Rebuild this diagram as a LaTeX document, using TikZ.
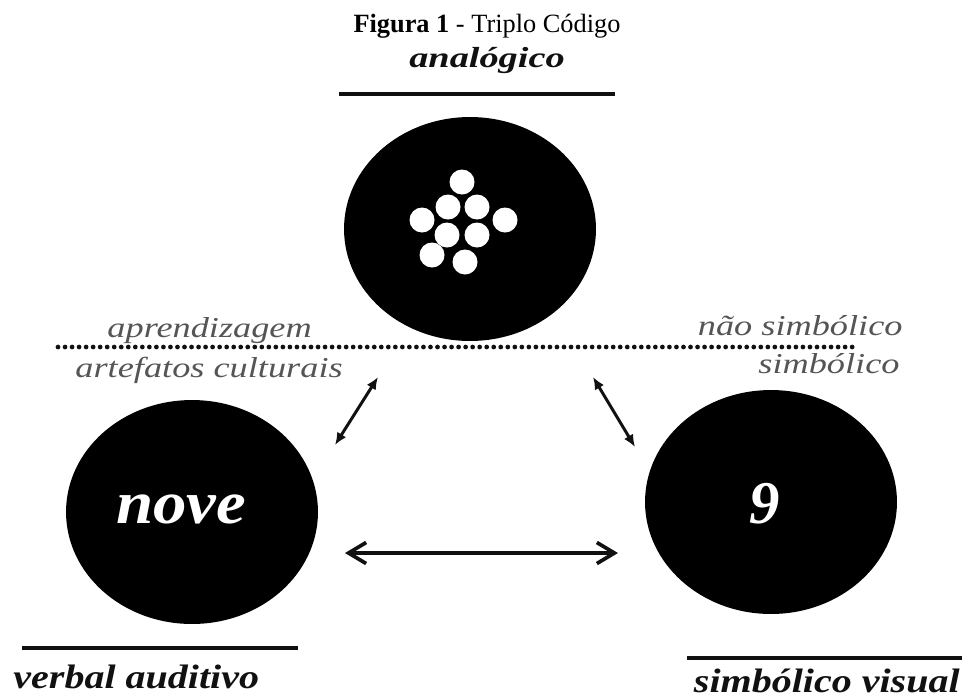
\documentclass[tikz,border=0pt]{standalone}
\usepackage{fontspec}
\setmainfont{Liberation Serif}
\usetikzlibrary{positioning, arrows.meta, shapes.geometric}
\definecolor{Ink}{HTML}{111111}
\definecolor{Note}{HTML}{555555}
\tikzset{
    codeblob/.style={ellipse, fill=black, minimum width=5.04cm, minimum height=4.48cm, inner sep=0pt},
    whitedot/.style={circle, fill=white, minimum size=0.5cm, inner sep=0pt},
    codename/.style={font=\bfseries\itshape\fontsize{19.3}{19.3}\selectfont, text=Ink, xscale=1.18, inner sep=0pt},
    inside/.style={font=\bfseries\itshape\fontsize{34.6}{34.6}\selectfont, text=white, inner sep=0pt},
    zonenote/.style={font=\itshape\fontsize{16.4}{16.4}\selectfont, text=Note, xscale=1.26, inner sep=0pt},
    underline/.style={line width=2.3pt, color=Ink},
    linkarrow/.style={{Latex[length=7pt, width=6pt]}-{Latex[length=7pt, width=6pt]}, line width=1.7pt, color=Ink},
    wideLink/.style={{Straight Barb[length=10pt, width=12pt]}-{Straight Barb[length=10pt, width=12pt]}, line width=2.1pt, color=Ink},
}
\begin{document}
\begin{tikzpicture}[x=0.02cm, y=-0.02cm]
    \useasboundingbox (0,0) rectangle (962,697);

    % Titulo
    \node[font=\fontsize{15}{15}\selectfont, anchor=base, inner sep=0pt] (title) at (487,32)
        {\textbf{Figura 1} - Triplo Código};

    % Os tres codigos
    \node[codeblob] (analog) at (470,229) {};
    \node[codeblob] (verbal) at (192,512) {};
    \node[codeblob] (visual) at (771,502) {};

    % Quantidade (pontos brancos)
    \foreach \dx/\dy [count=\i] in {-8/-47, -22/-22, 7/-22, -48/-9, 35/-9, -23/6, 7/6, -38/26, -5/33}
        \node[whitedot] (dot\i) at ([shift={(\dx,\dy)}]analog) {};

    \node[inside, anchor=base, xscale=1.1] (nove) at (181,523) {nove};
    \node[inside, anchor=base] (nine) at (765,523) {9};

    % Nomes e linhas
    \node[codename, anchor=base, xscale=1.12, font=\bfseries\itshape\fontsize{16.5}{16.5}\selectfont] (analogname) at (487,67) {analógico};
    \coordinate (analogL) at (339,94);
    \coordinate (analogR) at (615,94);
    \draw[underline] (analogL) -- (analogR);

    \node[codename, anchor=base west] (verbalname) at (13,688) {verbal auditivo};
    \coordinate (verbalL) at (22,648);
    \coordinate (verbalR) at (298,648);
    \draw[underline] (verbalL) -- (verbalR);

    \node[codename, anchor=base east] (visualname) at (960,692) {simbólico visual};
    \coordinate (visualL) at (687,658);
    \coordinate (visualR) at (962,658);
    \draw[underline] (visualL) -- (visualR);

    % Fronteira pontilhada
    \coordinate (borderL) at (58,347);
    \coordinate (borderR) at (858,347);
    \draw[line width=2.7pt, Ink, line cap=round, dash pattern=on 0pt off 4pt] (borderL) -- (borderR);
    \node[zonenote, anchor=base west] (learn) at (107,337) {aprendizagem};
    \node[zonenote, anchor=base east] (nonsym) at (903,335) {não simbólico};
    \node[zonenote, anchor=base west] (culture) at (75,377) {artefatos culturais};
    \node[zonenote, anchor=base east] (sym) at (900,373) {simbólico};

    % Setas
    \coordinate (leftUp) at (378,377);
    \coordinate (leftDown) at (335,445);
    \coordinate (rightUp) at (593,377);
    \coordinate (rightDown) at (635,447);
    \coordinate (midL) at (345,553);
    \coordinate (midR) at (618,553);
    \draw[linkarrow] (leftUp) -- (leftDown);
    \draw[linkarrow] (rightUp) -- (rightDown);
    \draw[wideLink] (midL) -- (midR);
\end{tikzpicture}
\end{document}
